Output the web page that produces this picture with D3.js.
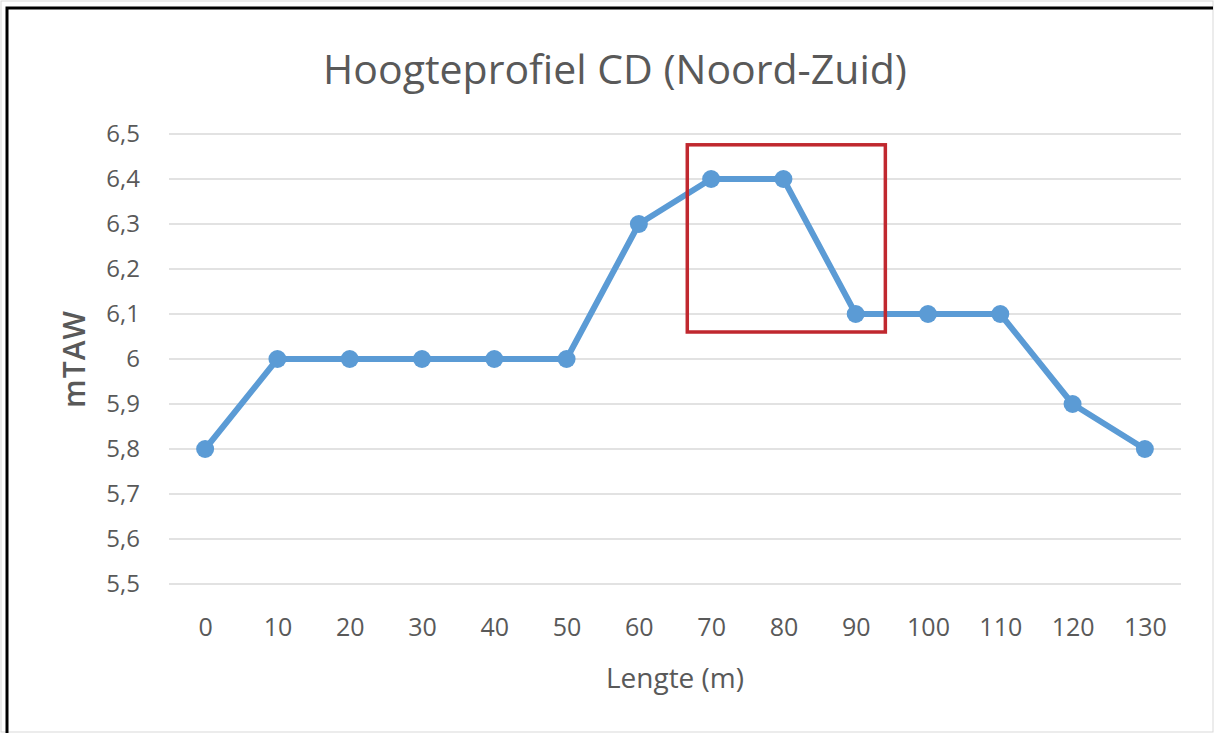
<!DOCTYPE html>
<meta charset="utf-8">
<style>
  body { margin: 0; background: #fff; }
  text { font-family: "Open Sans", "Noto Sans", sans-serif; }
</style>
<div id="container"></div>
<script src="https://cdn.jsdelivr.net/npm/d3@7"></script>
<script>

// profile data
const lengths = [0, 10, 20, 30, 40, 50, 60, 70, 80, 90, 100, 110, 120, 130];
const heights = [5.8, 6.0, 6.0, 6.0, 6.0, 6.0, 6.3, 6.4, 6.4, 6.1, 6.1, 6.1, 5.9, 5.8];
const yTicks = [5.5, 5.6, 5.7, 5.8, 5.9, 6.0, 6.1, 6.2, 6.3, 6.4, 6.5];
// highlighted zone (in metres / mTAW)
const boxX = [66.7, 94.1];
const boxY = [6.06, 6.476];

const width = 1217, height = 733;
const plotLeft = 169, plotRight = 1181, plotTop = 134, plotBottom = 584;

const svg = d3.select('#container').append('svg')
    .attr('width', width)
    .attr('height', height);

// frame
svg.append('rect').attr('x', 1).attr('y', 1).attr('width', width - 5).attr('height', height - 2)
    .attr('fill', 'none').attr('stroke', '#d9d9d9').attr('stroke-width', 1);
svg.append('path').attr('d', `M7,${height} V8 H${width - 4}`)
    .attr('fill', 'none').attr('stroke', '#000').attr('stroke-width', 3);

const x = d3.scalePoint().domain(lengths).range([plotLeft, plotRight]).padding(0.5);
const y = d3.scaleLinear().domain([5.5, 6.5]).range([plotBottom, plotTop]);
// linear twin of the point scale, for the highlight box
const xl = d3.scaleLinear().domain([0, 130]).range([x(0), x(130)]);

const fmt = d => d3.format('.1f')(d).replace('.', ',').replace(',0', '');

// gridlines
svg.append('g').selectAll('line').data(yTicks).enter().append('line')
    .attr('x1', plotLeft).attr('x2', plotRight)
    .attr('y1', d => y(d)).attr('y2', d => y(d))
    .attr('stroke', '#d9d9d9').attr('stroke-width', 1.3);

// y axis labels
const yAxis = svg.append('g').attr('transform', `translate(${plotLeft - 12},0)`)
    .call(d3.axisLeft(y).tickValues(yTicks).tickFormat(fmt).tickSize(0).tickPadding(17));
yAxis.select('.domain').remove();
yAxis.selectAll('text').attr('fill', '#595959').style('font-size', '24px');

// x axis labels
const xAxis = svg.append('g').attr('transform', `translate(0,${plotBottom})`)
    .call(d3.axisBottom(x).tickSize(0).tickPadding(34));
xAxis.select('.domain').remove();
xAxis.selectAll('text').attr('fill', '#595959').style('font-size', '25px');

// line + markers
const pts = lengths.map((l, i) => [l, heights[i]]);
svg.append('path').datum(pts)
    .attr('fill', 'none').attr('stroke', '#5b9bd5').attr('stroke-width', 6)
    .attr('stroke-linejoin', 'round')
    .attr('d', d3.line().x(d => x(d[0])).y(d => y(d[1])));
svg.append('g').selectAll('circle').data(pts).enter().append('circle')
    .attr('cx', d => x(d[0])).attr('cy', d => y(d[1])).attr('r', 9)
    .attr('fill', '#5b9bd5');

// highlight box
svg.append('rect')
    .attr('x', xl(boxX[0])).attr('y', y(boxY[1]))
    .attr('width', xl(boxX[1]) - xl(boxX[0])).attr('height', y(boxY[0]) - y(boxY[1]))
    .attr('fill', 'none').attr('stroke', '#c0282f').attr('stroke-width', 3.5);

// titles
svg.append('text').attr('x', 615).attr('y', 84).attr('text-anchor', 'middle')
    .attr('fill', '#595959').style('font-size', '41px')
    .text('Hoogteprofiel CD (Noord-Zuid)');
svg.append('text').attr('x', 675).attr('y', 688).attr('text-anchor', 'middle')
    .attr('fill', '#595959').style('font-size', '28px')
    .text('Lengte (m)');
svg.append('text').attr('transform', 'translate(85,359) rotate(-90)').attr('text-anchor', 'middle')
    .attr('fill', '#595959').style('font-size', '30px').style('font-weight', 600)
    .style('letter-spacing', '1px')
    .text('mTAW');

</script>
